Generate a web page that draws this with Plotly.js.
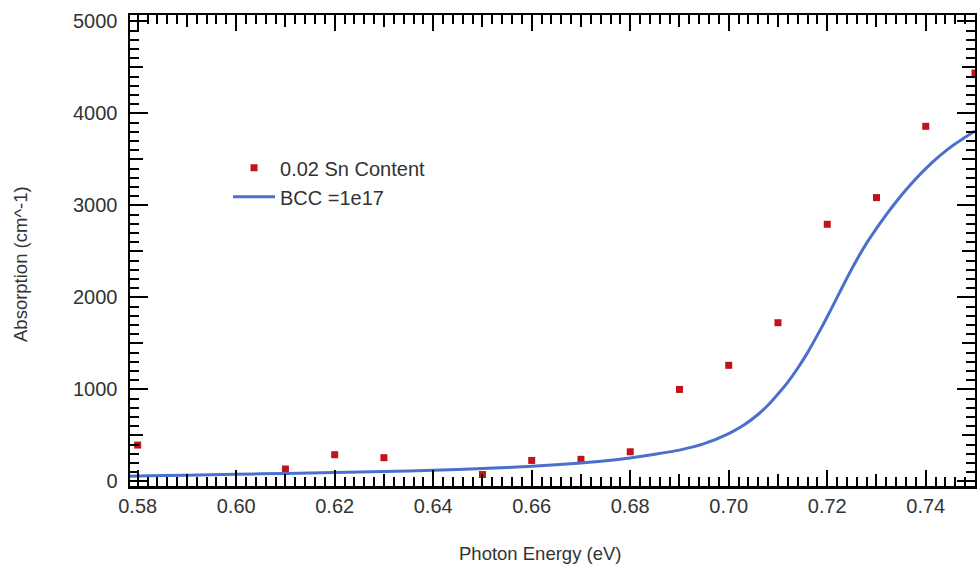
<!DOCTYPE html>
<html>
<head>
<meta charset="utf-8">
<script src="https://cdn.plot.ly/plotly-3.0.1.min.js"></script>
<style>
  html, body { margin: 0; padding: 0; background: #fff; }
  #chart { width: 977px; height: 569px; }
</style>
</head>
<body>
<div id="chart"></div>
<script>
// Measured data points (0.02 Sn content)
const energyPts = [0.58, 0.61, 0.62, 0.63, 0.65, 0.66, 0.67, 0.68, 0.69, 0.70, 0.71, 0.72, 0.73, 0.74, 0.75];
const absorbPts = [395, 135, 290, 258, 75, 228, 240, 322, 1000, 1262, 1725, 2795, 3085, 3860, 4440];

// Model curve (BCC = 1e17)
const energyFit = [0.578, 0.58, 0.59, 0.60, 0.61, 0.62, 0.63, 0.64, 0.65, 0.66, 0.67, 0.675, 0.68, 0.685, 0.69, 0.695, 0.70, 0.703, 0.706, 0.708, 0.710, 0.712, 0.714, 0.716, 0.718, 0.720, 0.722, 0.724, 0.726, 0.728, 0.730, 0.732, 0.734, 0.736, 0.738, 0.740, 0.742, 0.744, 0.746, 0.748, 0.750];
const absorbFit = [55, 60, 68, 78, 87, 96, 108, 121, 140, 165, 200, 225, 255, 295, 340, 410, 520, 610, 730, 830, 950, 1080, 1230, 1400, 1590, 1790, 2000, 2210, 2410, 2590, 2750, 2900, 3040, 3170, 3290, 3400, 3500, 3590, 3670, 3740, 3810];

const seriesNames = ["0.02 Sn Content", "BCC =1e17"];
const xTitle = "Photon Energy (eV)";
const yTitle = "Absorption (cm^-1)";

const FONT = "Liberation Sans, Arial, sans-serif";
const xRange = [0.57844, 0.75];
const yRange = [-50, 5070];

const traces = [
  {
    x: energyPts, y: absorbPts, name: seriesNames[0],
    type: "scatter", mode: "markers",
    marker: { symbol: "square", size: 7, color: "#c0141c" }
  },
  {
    x: energyFit, y: absorbFit, name: seriesNames[1],
    type: "scatter", mode: "lines",
    line: { color: "#4a70cc", width: 3, shape: "spline", smoothing: 0.6 }
  },
  { x: [], y: [], xaxis: "x2", yaxis: "y2", showlegend: false, hoverinfo: "skip" }
];

const baseAxis = {
  showgrid: false, zeroline: false,
  showline: true, linecolor: "#000", linewidth: 2.5,
  mirror: "allticks", ticks: "inside", tickcolor: "#000", tickwidth: 2
};

const layout = {
  width: 977, height: 569,
  margin: { l: 130, r: 2, t: 15, b: 83 },
  paper_bgcolor: "#fff", plot_bgcolor: "#fff",
  font: { family: FONT, color: "#333" },
  showlegend: true,
  legend: {
    x: 0.116, y: 0.717, xanchor: "left", yanchor: "top",
    itemwidth: 42,
    bgcolor: "rgba(0,0,0,0)", font: { family: FONT, size: 20, color: "#333" },
    tracegroupgap: 0
  },
  xaxis: Object.assign({}, baseAxis, {
    range: xRange, tick0: 0.58, dtick: 0.02, ticklen: 16, tickformat: ".2f",
    tickfont: { family: FONT, size: 20, color: "#333" },
    minor: { dtick: 0.002, tick0: 0.58, ticks: "inside", ticklen: 9, tickwidth: 2, tickcolor: "#000", showgrid: false }
  }),
  yaxis: Object.assign({}, baseAxis, {
    range: yRange, tick0: 0, dtick: 1000, ticklen: 18,
    tickfont: { family: FONT, size: 20, color: "#333" },
    ticklabelstandoff: 6,
    minor: { dtick: 100, tick0: 0, ticks: "inside", ticklen: 9, tickwidth: 2, tickcolor: "#000", showgrid: false }
  }),
  xaxis2: Object.assign({}, baseAxis, {
    overlaying: "x", anchor: "y2", range: xRange, tick0: 0.58, dtick: 0.01, ticklen: 12,
    showticklabels: false, showline: false
  }),
  yaxis2: Object.assign({}, baseAxis, {
    overlaying: "y", anchor: "x2", range: yRange, tick0: 0, dtick: 500, ticklen: 13,
    showticklabels: false, showline: false
  }),
  annotations: [
    { text: xTitle, xref: "paper", yref: "paper", x: (540 - 130) / 845, y: (486 - 553) / 471,
      xanchor: "center", yanchor: "middle", showarrow: false,
      font: { family: FONT, size: 18.5, color: "#333" } },
    { text: yTitle, xref: "paper", yref: "paper", x: (20 - 130) / 845, y: (486 - 264) / 471,
      xanchor: "center", yanchor: "middle", showarrow: false, textangle: -90,
      font: { family: FONT, size: 18.5, color: "#333" } }
  ]
};

Plotly.newPlot("chart", traces, layout, { displayModeBar: false, staticPlot: true });
</script>
</body>
</html>
